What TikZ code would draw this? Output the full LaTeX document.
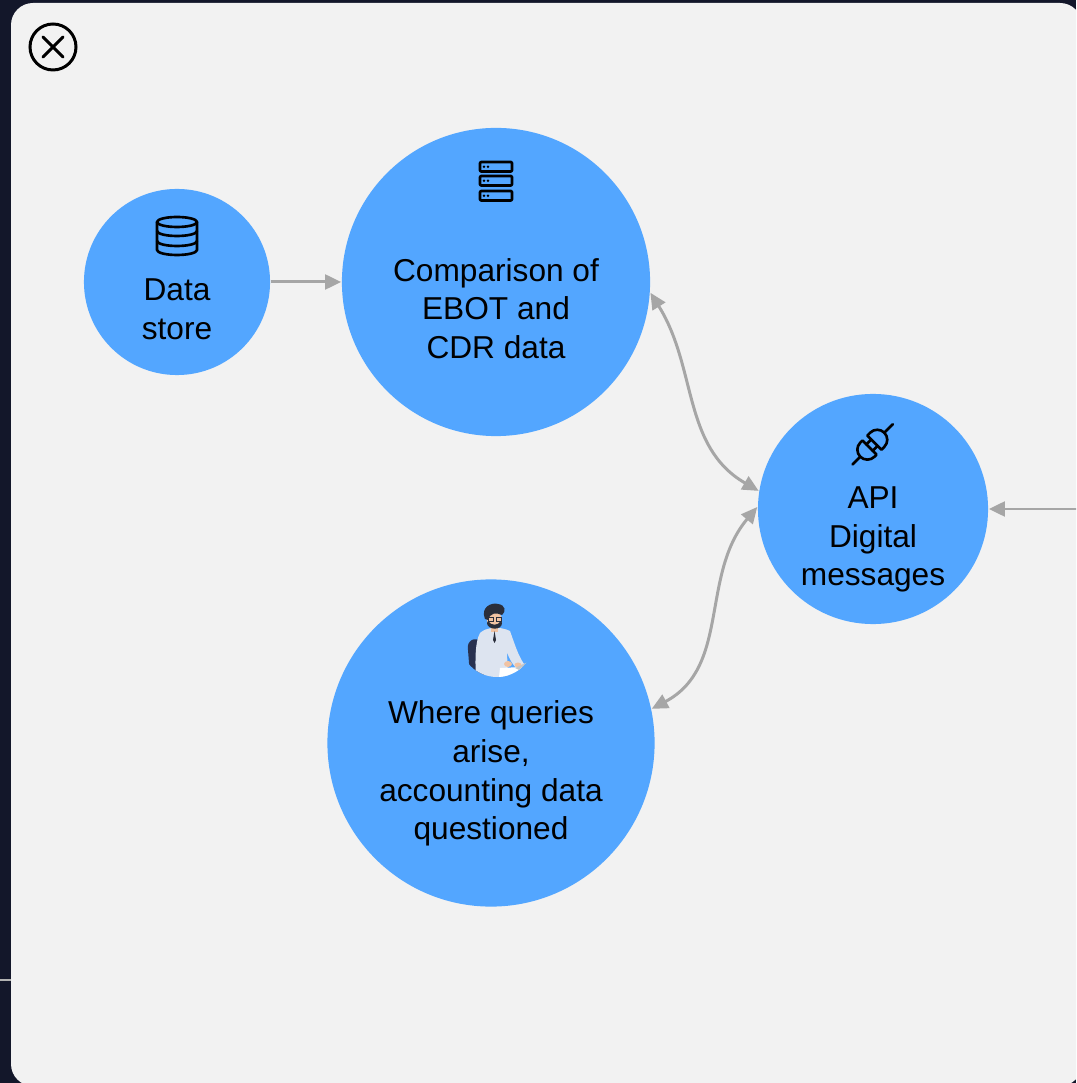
\documentclass[tikz,border=0pt]{standalone}
\usepackage{fontspec}
\setmainfont{Liberation Sans}
\usetikzlibrary{arrows.meta}
\definecolor{backdrop}{HTML}{13172A}
\definecolor{panel}{HTML}{F2F2F2}
\definecolor{bubblefill}{HTML}{53A6FF}
\definecolor{linkgrey}{HTML}{A6A6A6}
\definecolor{shirt}{HTML}{DDE4F0}
\definecolor{hair}{HTML}{2A2E3B}
\definecolor{skin}{HTML}{F1C3A3}
\definecolor{chair}{HTML}{283150}
\tikzset{
  bubble/.style={circle,fill=bubblefill,inner sep=0pt},
  caption/.style={align=center,font=\fontsize{9}{11}\selectfont,inner sep=0pt},
  link/.style={draw=linkgrey,line width=0.85pt,{Triangle[length=4.6pt,width=4.2pt]}-{Triangle[length=4.6pt,width=4.2pt]}},
  oneway/.style={draw=linkgrey,line width=0.85pt,-{Triangle[length=4.6pt,width=4.2pt]}},
  icon/.style={line width=0.75pt,line join=round,line cap=round}
}
\begin{document}
\begin{tikzpicture}[x=0.01cm,y=-0.01cm]
\useasboundingbox (0,0) rectangle (1076,1083);
\clip (0,0) rectangle (1076,1083);
\fill[backdrop] (0,0) rectangle (1076,1083);
\draw[gray!60,line width=0.3pt] (0,980) -- (11,980);
\fill[panel,rounded corners=0.22cm] (11,3) rectangle (1082,1086);

% close button
\draw[line width=0.85pt] (53,47) circle (23);
\draw[line width=0.85pt,line cap=round] (43,37) -- (63,57) (63,37) -- (43,57);

\node[bubble,minimum size=1.86cm] (store) at (177,282) {};
\node[bubble,minimum size=3.08cm] (cmp) at (496,282) {};
\node[bubble,minimum size=2.30cm] (api) at (873,509) {};
\node[bubble,minimum size=3.27cm] (query) at (491,743) {};

\node[caption] (storetxt) at ([yshift=-0.27cm]store.center) {Data\\store};
\node[caption] (cmptxt) at ([yshift=-0.265cm]cmp.center) {Comparison of\\EBOT and\\CDR data};
\node[caption] (apitxt) at ([yshift=-0.305cm]api.center) {API\\Digital\\messages};
\node[caption] (querytxt) at ([yshift=-0.305cm]query.center) {Where queries\\arise,\\accounting data\\questioned};

% database
\draw[icon] (177,222) ellipse [x radius=0.2cm,y radius=0.05cm];
\draw[icon] (157,222) -- (157,250) arc[start angle=180,end angle=360,x radius=0.2cm,y radius=0.05cm] -- (197,222);
\draw[icon] (157,231) arc[start angle=180,end angle=360,x radius=0.2cm,y radius=0.05cm];
\draw[icon] (157,241) arc[start angle=180,end angle=360,x radius=0.2cm,y radius=0.05cm];

% server rack
\foreach \t in {162,176,191}{
  \draw[icon,rounded corners=0.3pt] (480,\t) rectangle (512,\t+9.5);
  \fill (484,\t+4.75) circle (1.3) (488,\t+4.75) circle (1.3);
}

% plug
\begin{scope}[shift={(873,444)},y=0.01cm,rotate=45,icon]
  \draw (2,-10) -- (2,10) -- (6,10) arc[start angle=90,end angle=-90,radius=10] -- cycle;
  \draw (16,0) -- (28,0);
  \draw (-5,-10) -- (-5,10) -- (-8,10) arc[start angle=90,end angle=270,radius=10] -- cycle;
  \draw (-18,0) -- (-29,0);
  \draw (-5,-4.5) -- (1,-4.5) (-5,4.5) -- (1,4.5);
\end{scope}

% person at a laptop
\begin{scope}
  \clip (497,640) circle (37);
  \fill[chair] (468,650) .. controls (466,640) and (476,636) .. (481,642) -- (484,676) -- (470,676) -- cycle;
  \fill[shirt] (480,633) .. controls (486,627) and (500,626) .. (510,631)
    .. controls (515,645) and (518,655) .. (524,664) -- (516,668)
    .. controls (511,662) and (509,658) .. (507,652) -- (508,680) -- (476,680)
    .. controls (475,660) and (475,642) .. cycle;
  \fill[skin] (491,623) rectangle (498,632);
  \fill[hair] (494.5,631) -- (493,640) -- (494.5,643) -- (496,640) -- cycle;
  \fill[skin] (494.5,620) ellipse [x radius=0.075cm,y radius=0.085cm];
  \fill[hair] (487,623) .. controls (487,630) and (502,631) .. (502,623) -- (501,621) .. controls (498,626) and (491,626) .. (488,621) -- cycle;
  \fill[hair] (485,619) .. controls (480,607) and (492,602) .. (498,604) .. controls (506,605) and (506,612) .. (502,615) .. controls (496,612) and (490,613) .. (488,620) -- cycle;
  \draw[hair,line width=0.25pt] (488.5,617) rectangle (493.5,621) (496,617) rectangle (501,621);
  \fill[white] (500,668) -- (522,667) -- (521,676) -- (499,677) -- cycle;
  \fill[skin] (508,664) ellipse [x radius=0.04cm,y radius=0.03cm];
  \fill[skin] (518,665) ellipse [x radius=0.035cm,y radius=0.025cm];
  \fill[gray!45] (515,668) -- (532,660) -- (537,661) -- (521,671) -- cycle;
\end{scope}

\draw[oneway] (store.east) -- (cmp.west);
\draw[link] (cmp.-4) to[out=-58,in=150] (api.171);
\draw[link] (api.179) to[out=-130,in=28] (query.12);
\coordinate (feed) at (1090,509);
\draw[oneway] (feed) -- (api.east);
\end{tikzpicture}
\end{document}
